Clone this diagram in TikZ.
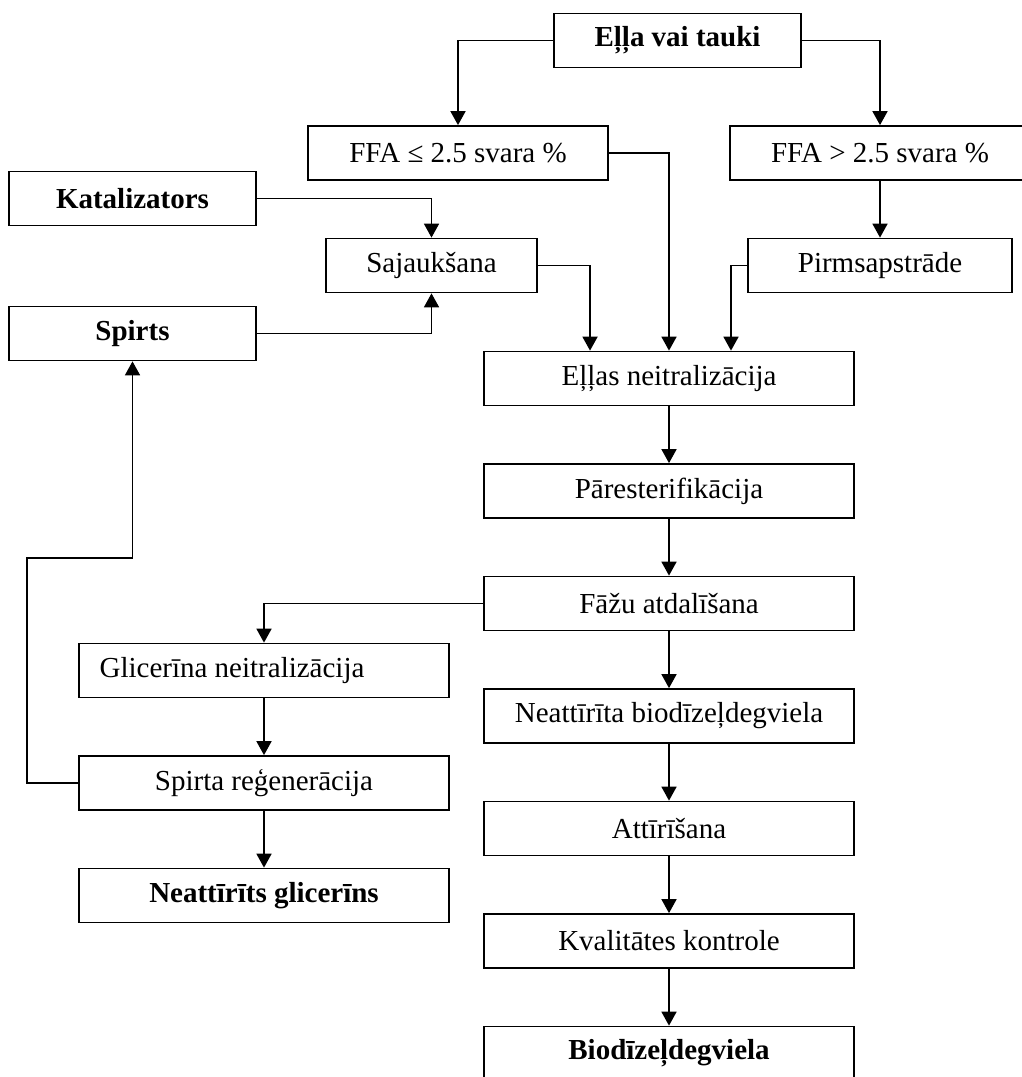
\documentclass[tikz,border=0pt]{standalone}
\usepackage{fontspec}
\setmainfont{Liberation Serif}
\usepackage{tikz}
\usetikzlibrary{arrows.meta}

\begin{document}
\begin{tikzpicture}[x=0.02cm,y=-0.02cm,
 procbox/.style={draw, line width=1pt, minimum height=1.08cm, inner sep=0pt,
   font=\fontsize{16.5}{19}\selectfont},
 arr/.style={line width=1pt, -{Triangle[length=0.28cm,width=0.3cm]}}]

 \useasboundingbox (0,0) rectangle (1021,1077);

 % top part
 \node[procbox, minimum width=4.94cm, font=\fontsize{16.5}{19}\selectfont\bfseries] (olj) at (677.5,40.5) {Eļļa vai tauki};
 \node[procbox, minimum width=6cm] (ffalo) at (458,153) {FFA ≤ 2.5 svara \%};
 \node[procbox, minimum width=6cm] (ffahi) at (880,153) {FFA > 2.5 svara \%};

 \node[procbox, minimum width=4.94cm, font=\fontsize{16.5}{19}\selectfont\bfseries] (kat) at (132.5,198.5) {Katalizators};
 \node[procbox, minimum width=4.22cm] (sajauk) at (431.5,265.5) {Sajaukšana};
 \node[procbox, minimum width=5.28cm] (pirms) at (880,265.5) {Pirmsapstrāde};
 \node[procbox, minimum width=4.94cm, font=\fontsize{16.5}{19}\selectfont\bfseries] (spirts) at (132.5,333.5) {Spirts};

 % main column
 \node[procbox, minimum width=7.4cm] (neitr) at (669,378.5) {Eļļas neitralizācija};
 \node[procbox, minimum width=7.4cm] (pares) at (669,491) {Pāresterifikācija};
 \node[procbox, minimum width=7.4cm] (fazu) at (669,603.5) {Fāžu atdalīšana};
 \node[procbox, minimum width=7.4cm] (neattbio) at (669,716) {Neattīrīta biodīzeļdegviela};
 \node[procbox, minimum width=7.4cm] (attir) at (669,828.5) {Attīrīšana};
 \node[procbox, minimum width=7.4cm] (kval) at (669,941) {Kvalitātes kontrole};
 \node[procbox, minimum width=7.4cm, font=\fontsize{16.5}{19}\selectfont\bfseries] (bio) at (669,1053.5) {Biodīzeļdegviela};

 % glycerol column
 \node[procbox, minimum width=7.4cm] (glic) at (264,670.5) {Glicerīna neitralizācija\hspace*{1.28cm}};
 \node[procbox, minimum width=7.4cm] (spreg) at (264,783) {Spirta reģenerācija};
 \node[procbox, minimum width=7.4cm, font=\fontsize{16.5}{19}\selectfont\bfseries] (neattgl) at (264,895.5) {Neattīrīts glicerīns};

 \coordinate (back) at (27,558);

 \draw[arr] (olj.west) -| (ffalo.north);
 \draw[arr] (olj.east) -| (ffahi.north);
 \draw[arr] (ffahi) -- (pirms);
 \draw[arr] (kat.east) -| (sajauk.north);
 \draw[arr] (spirts.east) -| (sajauk.south);

 \draw[arr] (ffalo.east) -| (neitr.north);
 \draw[arr] (sajauk.east) -| ([xshift=-1.58cm]neitr.north);
 \draw[arr] (pirms.west) -| ([xshift=1.24cm]neitr.north);

 \draw[arr] (neitr) -- (pares);
 \draw[arr] (pares) -- (fazu);
 \draw[arr] (fazu) -- (neattbio);
 \draw[arr] (neattbio) -- (attir);
 \draw[arr] (attir) -- (kval);
 \draw[arr] (kval) -- (bio);

 \draw[arr] (fazu.west) -| (glic.north);
 \draw[arr] (glic) -- (spreg);
 \draw[arr] (spreg) -- (neattgl);
 \draw[arr] (spreg.west) -| (back) -| (spirts.south);

\end{tikzpicture}
\end{document}
